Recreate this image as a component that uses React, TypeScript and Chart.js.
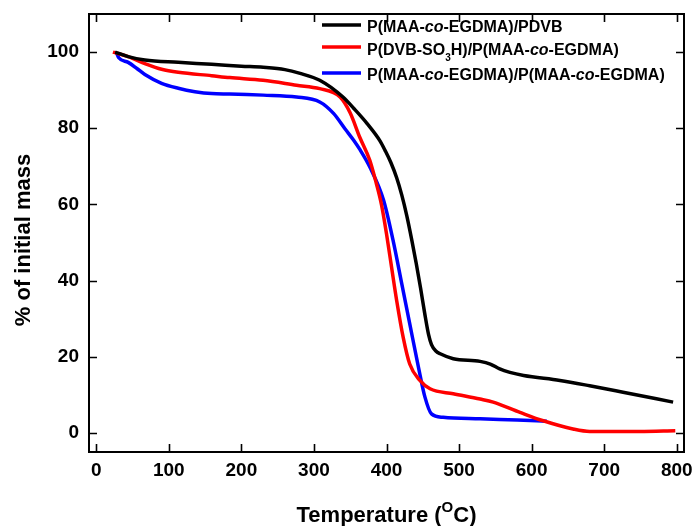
import React, { useEffect, useRef } from "react";
import { Chart, registerables } from "chart.js";

Chart.register(...registerables);

// Series 1: P(MAA-co-EGDMA)/PDVB
const blackT = [26, 44, 67, 113, 159, 200, 230, 260, 281, 308, 340, 355, 373, 391, 398, 406, 414, 421, 428, 435, 441, 447, 453, 458, 462, 468, 474, 492, 529, 543, 556, 570, 589, 639, 680, 726, 795];
const blackM = [100, 98.8, 97.9, 97.3, 96.8, 96.3, 96, 95.4, 94.4, 92.6, 88.2, 85.2, 81.3, 76.7, 74.2, 71, 67, 62.5, 57, 50.5, 44.5, 38, 31, 25.8, 23.2, 21.5, 20.8, 19.5, 18.8, 18.1, 16.8, 15.9, 15.1, 13.8, 12.4, 10.7, 8.1];

// Series 2: P(DVB-SO3H)/P(MAA-co-EGDMA)
const redT = [23, 44, 67, 90, 113, 159, 184, 230, 276, 308, 336, 350, 363, 377, 386, 393, 400, 407, 414, 423, 432, 446, 460, 492, 529, 547, 584, 616, 657, 680, 749, 798];
const redM = [100, 98.8, 97, 95.5, 94.7, 93.8, 93.3, 92.6, 91.3, 90.4, 88.2, 84, 77.7, 71.6, 65.5, 60, 52.3, 43.5, 34.8, 25.1, 18.1, 13.8, 11.6, 10.3, 8.9, 8.1, 5.4, 3.2, 1.05, 0.4, 0.4, 0.6];

// Series 3: P(MAA-co-EGDMA)/P(MAA-co-EGDMA)
const blueT = [28, 31, 44, 56, 67, 90, 113, 136, 159, 184, 230, 276, 308, 327, 343, 355, 363, 377, 396, 409, 421, 432, 444, 453, 462, 478, 529, 580, 621];
const blueM = [99.8, 98.5, 97.3, 95.7, 94.1, 91.8, 90.5, 89.6, 89.1, 89, 88.7, 88.2, 86.9, 83.9, 79.8, 76.8, 74.5, 69.8, 61.1, 50.6, 39.2, 28.7, 17.3, 9.4, 5.0, 4.1, 3.7, 3.4, 3.1];

const xTicks = [0, 100, 200, 300, 400, 500, 600, 700, 800];
const yTicks = [0, 20, 40, 60, 80, 100];

const FONT = "'Liberation Sans', Arial, sans-serif";

type Seg = { t: string; italic?: boolean; sub?: boolean };
const legendRows: { color: string; segs: Seg[] }[] = [
  { color: "#000000", segs: [{ t: "P(MAA-" }, { t: "co", italic: true }, { t: "-EGDMA)/PDVB" }] },
  { color: "#ff0000", segs: [{ t: "P(DVB-SO" }, { t: "3", sub: true }, { t: "H)/P(MAA-" }, { t: "co", italic: true }, { t: "-EGDMA)" }] },
  { color: "#0000ff", segs: [{ t: "P(MAA-" }, { t: "co", italic: true }, { t: "-EGDMA)/P(MAA-" }, { t: "co", italic: true }, { t: "-EGDMA)" }] },
];

const pts = (xs: number[], ys: number[]) => xs.map((x, i) => ({ x, y: ys[i] }));

const zeroPad = (s: any) => {
  s.paddingTop = 0;
  s.paddingBottom = 0;
  s.paddingLeft = 0;
  s.paddingRight = 0;
};

const decorPlugin = {
  id: "decor",
  afterDraw(chart: any) {
    const ctx = chart.ctx as CanvasRenderingContext2D;
    const { left, right, top, bottom } = chart.chartArea;
    const xs = chart.scales.x;
    const ys = chart.scales.y;
    ctx.save();
    ctx.strokeStyle = "#000";
    ctx.lineWidth = 1.6;
    ctx.beginPath();
    for (const v of xTicks) {
      const p = Math.round(xs.getPixelForValue(v)) + 0.5;
      ctx.moveTo(p, bottom);
      ctx.lineTo(p, bottom - 8);
      ctx.moveTo(p, top);
      ctx.lineTo(p, top + 8);
    }
    for (const v of yTicks) {
      const p = Math.round(ys.getPixelForValue(v)) + 0.5;
      ctx.moveTo(left, p);
      ctx.lineTo(left + 8, p);
      ctx.moveTo(right, p);
      ctx.lineTo(right - 8, p);
    }
    ctx.stroke();
    ctx.lineWidth = 2;
    ctx.strokeRect(left, top, right - left, bottom - top);

    // Legend
    const lx0 = 322, lx1 = 361, tx = 367;
    const lineYs = [25, 47, 73];
    const baseYs = [31.5, 54.5, 80];
    legendRows.forEach((row, i) => {
      ctx.strokeStyle = row.color;
      ctx.lineWidth = 3.5;
      ctx.beginPath();
      ctx.moveTo(lx0, lineYs[i]);
      ctx.lineTo(lx1, lineYs[i]);
      ctx.stroke();
      let x = tx;
      ctx.fillStyle = "#000";
      ctx.textBaseline = "alphabetic";
      ctx.textAlign = "left";
      for (const s of row.segs) {
        if (s.sub) {
          ctx.font = `bold 10px ${FONT}`;
          ctx.fillText(s.t, x, baseYs[i] + 6);
        } else {
          ctx.font = `${s.italic ? "italic " : ""}bold 16px ${FONT}`;
          ctx.fillText(s.t, x, baseYs[i]);
        }
        x += ctx.measureText(s.t).width;
      }
    });

    // X title with superscript
    ctx.fillStyle = "#000";
    ctx.textBaseline = "alphabetic";
    ctx.textAlign = "left";
    const mainFont = `bold 22px ${FONT}`;
    const supFont = `bold 15px ${FONT}`;
    ctx.font = mainFont;
    const w1 = ctx.measureText("Temperature (").width;
    const w3 = ctx.measureText("C)").width;
    ctx.font = supFont;
    const w2 = ctx.measureText("O").width;
    const total = w1 + w2 + w3;
    let x = (left + right) / 2 - total / 2;
    const base = 521.5;
    ctx.font = mainFont;
    ctx.fillText("Temperature (", x, base);
    x += w1;
    ctx.font = supFont;
    ctx.fillText("O", x, base - 10);
    x += w2;
    ctx.font = mainFont;
    ctx.fillText("C)", x, base);

    // Y title
    ctx.save();
    ctx.translate(30, 240);
    ctx.rotate(-Math.PI / 2);
    ctx.textAlign = "center";
    ctx.font = `bold 22px ${FONT}`;
    ctx.fillText("% of initial mass", 0, 0);
    ctx.restore();

    ctx.restore();
  },
};

export default function App() {
  const ref = useRef<HTMLCanvasElement>(null);
  useEffect(() => {
    document.body.style.margin = "0";
    const canvas = ref.current!;
    const common = { pointRadius: 0, borderWidth: 3.5, fill: false, cubicInterpolationMode: "monotone" as const, showLine: true };
    const chart = new Chart(canvas, {
      type: "scatter",
      data: {
        datasets: [
          { label: "P(MAA-co-EGDMA)/PDVB", data: pts(blackT, blackM), borderColor: "#000000", backgroundColor: "#000000", ...common },
          { label: "P(DVB-SO3H)/P(MAA-co-EGDMA)", data: pts(redT, redM), borderColor: "#ff0000", backgroundColor: "#ff0000", ...common },
          { label: "P(MAA-co-EGDMA)/P(MAA-co-EGDMA)", data: pts(blueT, blueM), borderColor: "#0000ff", backgroundColor: "#0000ff", ...common },
        ],
      },
      options: {
        responsive: false,
        maintainAspectRatio: false,
        animation: false,
        layout: { padding: { left: 0, right: 12, top: 14, bottom: 0 } },
        plugins: { legend: { display: false }, tooltip: { enabled: false }, title: { display: false } },
        scales: {
          x: {
            type: "linear",
            min: -10,
            max: 810,
            afterBuildTicks: (s: any) => { s.ticks = xTicks.map((v) => ({ value: v })); },
            afterFit: (s: any) => { s.height = 74; zeroPad(s); },
            ticks: { color: "#000", font: { family: FONT, size: 19, weight: "bold" }, padding: 7, maxRotation: 0, autoSkip: false },
            grid: { display: false, drawTicks: false },
            border: { display: false },
          },
          y: {
            type: "linear",
            min: -5,
            max: 110,
            afterBuildTicks: (s: any) => { s.ticks = yTicks.map((v) => ({ value: v })); },
            afterFit: (s: any) => { s.width = 89; zeroPad(s); },
            ticks: { color: "#000", font: { family: FONT, size: 19, weight: "bold" }, padding: 10, autoSkip: false },
            grid: { display: false, drawTicks: false },
            border: { display: false },
          },
        },
      },
      plugins: [decorPlugin],
    });
    return () => chart.destroy();
  }, []);
  return (
    <div style={{ width: 696, height: 526 }}>
      <canvas ref={ref} width={696} height={526} style={{ display: "block" }} />
    </div>
  );
}
